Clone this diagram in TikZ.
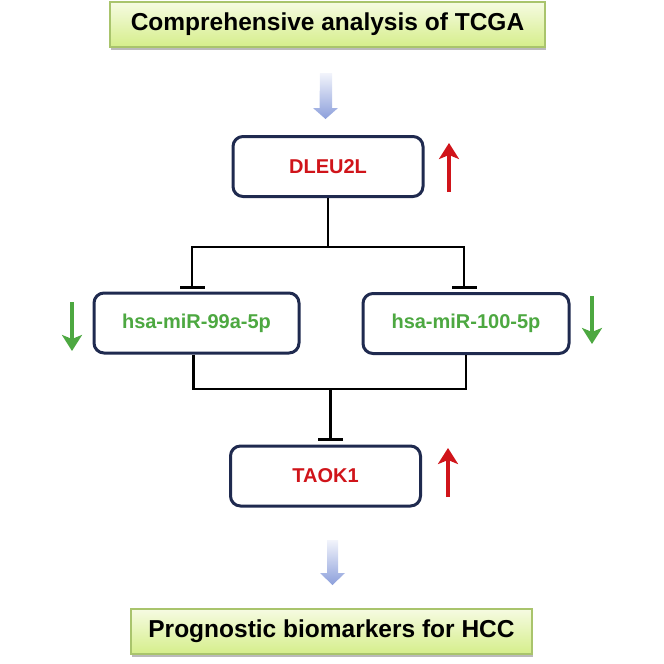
\documentclass[tikz,border=0pt]{standalone}
\usepackage{fontspec}
\setmainfont{Liberation Sans}
\usetikzlibrary{arrows.meta,shadows}
\definecolor{navy}{HTML}{1F2A4F}
\definecolor{genered}{HTML}{D0141A}
\definecolor{mirgreen}{HTML}{4DA841}
\definecolor{boxgreenT}{HTML}{F6FBE2}
\definecolor{boxgreenB}{HTML}{D5EE8A}
\definecolor{boxborder}{HTML}{A9C46C}
\definecolor{blueT}{HTML}{F2F4FB}
\definecolor{blueB}{HTML}{8C9FDB}
\tikzset{
  titlebox/.style={draw=boxborder, line width=1.2pt, top color=boxgreenT, bottom color=boxgreenB,
    minimum width=#1, minimum height=45pt, inner sep=0pt,
    drop shadow={shadow xshift=1pt, shadow yshift=-3pt, opacity=0.45, fill=black!60},
    font=\fontsize{24.5pt}{28pt}\selectfont\bfseries},
  genebox/.style={draw=navy, line width=3pt, rounded corners=10pt, fill=white,
    minimum width=#1, minimum height=60pt, inner sep=0pt,
    font=\fontsize{20pt}{24pt}\selectfont\bfseries},
  link/.style={line width=2.6pt, black},
  inhib/.style={line width=2.6pt, black, -{Bar[width=25pt,line width=2.6pt]}},
  updown/.style={line width=4pt, -{Stealth[length=16pt,width=20pt,inset=4pt]}},
  bigarrow/.style={top color=blueT, bottom color=blueB, draw=none}
}
\begin{document}
\begin{tikzpicture}[x=1pt,y=-1pt]
\useasboundingbox (0,0) rectangle (664,664);
% boxes
\node[titlebox=435pt] (top) at (327.5,24.5) {Comprehensive analysis of TCGA};
\node[titlebox=401pt] (bot) at (331.5,631.5) {Prognostic biomarkers for HCC};
\node[genebox=190pt, text=genered] (dleu) at (328,166.5) {DLEU2L};
\node[genebox=205pt, text=mirgreen] (mira) at (196.5,323) {hsa-miR-99a-5p};
\node[genebox=206pt, text=mirgreen] (mirb) at (466,323.5) {hsa-miR-100-5p};
\node[genebox=190pt, text=genered] (taok) at (325.5,476) {TAOK1};
% big blue arrows
\coordinate (a1) at (326,73);
\coordinate (a2) at (332.5,540);
\shade[bigarrow] (a1) ++(-6,0) -- ++(12,0) -- ++(0,35) -- ++(6,0) -- ++(-12.5,11) -- ++(-12.5,-11) -- ++(6.5,0) -- cycle;
\shade[bigarrow] (a2) ++(-5.5,0) -- ++(11,0) -- ++(0,33) -- ++(7,0) -- ++(-12.5,12) -- ++(-12.5,-12) -- ++(7,0) -- cycle;
% connectors
\coordinate (j1) at (328,247);
\coordinate (ja) at (192,247);
\coordinate (jb) at (464,247);
\coordinate (ta) at (192,289);
\coordinate (tb) at (464,289);
\draw[link] (dleu.south -| j1) -- (j1);
\draw[link, line cap=rect] (ja) -- (jb);
\draw[inhib] (ja) -- (ta);
\draw[inhib] (jb) -- (tb);
\coordinate (j2) at (330.5,389);
\coordinate (ka) at (193.5,389);
\coordinate (kb) at (466,389);
\coordinate (tc) at (330.5,441);
\draw[link] (mira.south -| ka) -- (ka) -- (kb) -- (mirb.south -| kb);
\draw[inhib] (j2) -- (tc);
% up/down arrows
\coordinate (u1s) at (449,192); \coordinate (u1e) at (449,143);
\coordinate (u2s) at (448,497); \coordinate (u2e) at (448,448);
\coordinate (d1s) at (72,302); \coordinate (d1e) at (72,351);
\coordinate (d2s) at (592,296); \coordinate (d2e) at (592,344);
\draw[updown, genered] (u1s) -- (u1e);
\draw[updown, genered] (u2s) -- (u2e);
\draw[updown, mirgreen] (d1s) -- (d1e);
\draw[updown, mirgreen] (d2s) -- (d2e);
\end{tikzpicture}
\end{document}
